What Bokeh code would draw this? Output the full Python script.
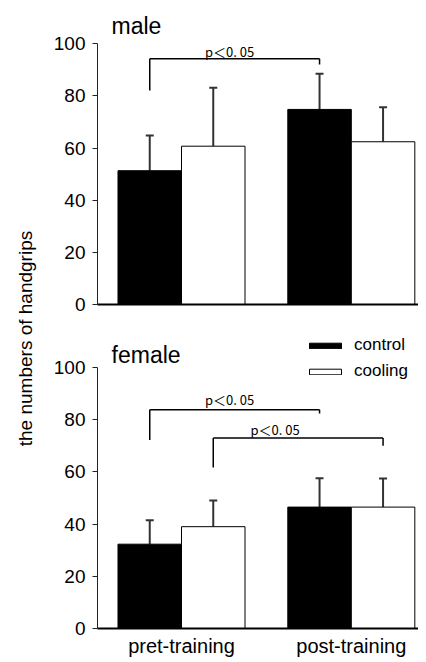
import math
from bokeh.plotting import figure
from bokeh.models import (Range1d, FixedTicker, Whisker, TeeHead, ColumnDataSource,
                          Label, Legend, LegendItem)
from bokeh.layouts import row, column
from bokeh.core.properties import value
from bokeh.embed import file_html
from bokeh.resources import INLINE

# ---------------- data ----------------
phases = ["pret-training", "post-training"]
series = ["control", "cooling"]
y_ticks = [0, 20, 40, 60, 80, 100]

male_control = [51.3, 74.8]
male_control_sd = [13.5, 13.7]
male_cooling = [60.7, 62.4]
male_cooling_sd = [22.4, 13.2]

female_control = [32.3, 46.5]
female_control_sd = [9.2, 11.1]
female_cooling = [39.0, 46.5]
female_cooling_sd = [10.0, 11.0]

# significance brackets (pret vs post of one series)
male_br_series = ["control"]
male_br_left_bottom = [82.1]
male_br_top = [94.2]
male_br_right_bottom = [92.0]
male_br_text_y = [97.0]
male_br_text = ["p＜0. 05"]

female_br_series = ["control", "cooling"]
female_br_left_bottom = [72.2, 61.7]
female_br_top = [83.8, 73.0]
female_br_right_bottom = [82.4, 70.0]
female_br_text_y = [87.6, 76.1]
female_br_text = ["p＜0. 05", "p＜0. 05"]

# ---------------- style ----------------
FONT = "Liberation Sans"
OFF = {"control": -0.187, "cooling": 0.187}
BAR_W = 0.374
FILL = {"control": "black", "cooling": "white"}
X_RANGE = (-0.4947, 1.3957)


def make_panel(title, title_y, ctrl, ctrl_sd, cool, cool_sd, br_series, br_lb, br_top,
               br_rb, br_ty, br_text, br_dx, y_end, frame_h, top_border, bottom_border,
               show_labels):
    p = figure(frame_width=321, frame_height=frame_h, x_range=Range1d(*X_RANGE),
               y_range=Range1d(0, y_end), toolbar_location=None, output_backend="svg",
               min_border_left=59, min_border_right=0, min_border_top=top_border,
               min_border_bottom=bottom_border)
    p.outline_line_color = None
    p.xgrid.visible = False
    p.ygrid.visible = False

    renderers = {}
    for name, vals, sds in (("control", ctrl, ctrl_sd), ("cooling", cool, cool_sd)):
        xs = [i + OFF[name] for i in range(len(phases))]
        src = ColumnDataSource(dict(x=xs, top=vals,
                                    upper=[v + s for v, s in zip(vals, sds)]))
        r = p.vbar(x="x", top="top", width=BAR_W, bottom=0, source=src,
                   fill_color=FILL[name], line_color="black", line_width=1)
        renderers[name] = r
        w = Whisker(base="x", upper="upper", lower="top", source=src, dimension="height",
                    line_color="#333333", line_width=2, lower_head=None,
                    upper_head=TeeHead(size=8, line_color="#333333", line_width=2))
        p.add_layout(w)

    # brackets
    for s, lb, top, rb, ty, txt, dx in zip(br_series, br_lb, br_top, br_rb, br_ty,
                                           br_text, br_dx):
        xl = 0 + OFF[s]
        xr = 1 + OFF[s]
        p.segment(x0=[xl, xl, xr], y0=[lb, top, top], x1=[xl, xr, xr], y1=[top, top, rb],
                  line_color="black", line_width=1.5)
        p.text(x=[(xl + xr) / 2], y=[ty], text=[txt], x_offset=dx, text_align="center",
               text_baseline="alphabetic", text_font=value("Noto Sans CJK JP"),
               text_font_size="13px", text_color="black")

    p.add_layout(Label(x=-0.412, y=title_y, text=title, text_font=FONT,
                       text_font_size="23px", text_baseline="alphabetic",
                       text_align="left", text_color="black"))

    ya = p.yaxis[0]
    ya.ticker = FixedTicker(ticks=y_ticks)
    ya.bounds = (0, 100)
    ya.major_tick_out = 5
    ya.major_tick_in = 0
    ya.minor_tick_out = 0
    ya.minor_tick_in = 0
    ya.major_label_standoff = 7
    ya.major_label_text_font = FONT
    ya.major_label_text_font_size = "19px"
    ya.major_label_text_color = "black"
    ya.axis_line_color = "#222222"
    ya.major_tick_line_color = "#222222"

    xa = p.xaxis[0]
    xa.axis_line_width = 2
    xa.axis_line_color = "black"
    xa.major_tick_out = 0
    xa.major_tick_in = 0
    xa.minor_tick_out = 0
    xa.minor_tick_in = 0
    if show_labels:
        xa.ticker = FixedTicker(ticks=list(range(len(phases))))
        xa.major_label_overrides = {i: ph for i, ph in enumerate(phases)}
        xa.major_label_standoff = 6
        xa.major_label_text_font = FONT
        xa.major_label_text_font_size = "20px"
        xa.major_label_text_color = "black"
    else:
        xa.ticker = FixedTicker(ticks=[])
    return p, renderers


top, _ = make_panel("male", 106.7, male_control, male_control_sd, male_cooling,
                    male_cooling_sd, male_br_series, male_br_left_bottom, male_br_top,
                    male_br_right_bottom, male_br_text_y, male_br_text, [-5],
                    113.5, 296, 8, 16, False)

bot, rend = make_panel("female", 104.9, female_control, female_control_sd, female_cooling,
                       female_cooling_sd, female_br_series, female_br_left_bottom,
                       female_br_top, female_br_right_bottom, female_br_text_y,
                       female_br_text, [-5, -23], 113, 295, 13, 30, True)

legend = Legend(items=[LegendItem(label=s, renderers=[rend[s]]) for s in series],
                location=(208, 247), glyph_width=40, glyph_height=7, label_height=16,
                label_standoff=9, spacing=6, padding=0, margin=0,
                border_line_color=None, background_fill_alpha=0,
                label_text_font=FONT, label_text_font_size="17px",
                label_text_color="black")
bot.add_layout(legend)

# y-axis title column
lab = figure(width=38, height=654, x_range=Range1d(0, 38), y_range=Range1d(0, 654),
             toolbar_location=None, output_backend="svg", min_border=0,
             x_axis_location=None, y_axis_location=None)
lab.outline_line_color = None
lab.xgrid.visible = False
lab.ygrid.visible = False
lab.add_layout(Label(x=25, y=654 - 338, text="the numbers of handgrips", angle=math.pi / 2,
                     text_align="center", text_baseline="middle", text_font=FONT,
                     text_font_size="19px", text_color="black"))

layout = row(lab, column(top, bot))
open("out.html", "w").write(file_html(layout, INLINE))
